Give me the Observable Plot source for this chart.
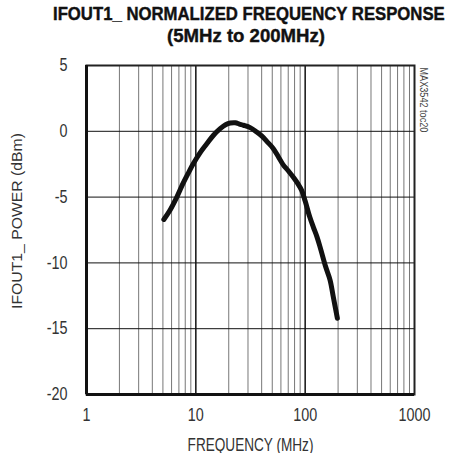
<!DOCTYPE html>
<html>
<head>
<meta charset="utf-8">
<script src="https://cdn.jsdelivr.net/npm/d3@7"></script>
<script src="https://cdn.jsdelivr.net/npm/@observablehq/plot@0.6"></script>
<style>
  body { margin: 0; background: #fff; }
  #wrap { width: 452px; height: 453px; position: relative; overflow: hidden; background: #fff; }
  .tl { position: absolute; white-space: nowrap; font-family: "Liberation Sans", Arial, sans-serif; font-weight: bold;
        font-size: 18px; line-height: 18px; color: #111; transform-origin: 0 0; -webkit-text-stroke: 0.4px #111; }
  #chart { position: absolute; left: 0; top: 50px; }
</style>
</head>
<body>
<div id="wrap">
  <div class="tl" id="t1" style="top:4.7px">IFOUT1_ NORMALIZED FREQUENCY RESPONSE</div>
  <div class="tl" id="t2" style="top:26.7px">(5MHz to 200MHz)</div>
  <div id="chart"></div>
</div>
<script>
const freqMHz = [5.1, 5.8, 6.7, 7.6, 8.5, 9.5, 11, 12.6, 14.5, 16.7, 18.7, 20.7, 23, 25, 27.3, 31.4, 36, 40, 45, 51, 57, 63, 70, 78, 86, 93, 100, 110, 119, 128, 137, 154, 169, 181, 197];
const powerDbm = [-6.7, -6.0, -5.0, -4.0, -3.2, -2.45, -1.6, -0.95, -0.3, 0.2, 0.5, 0.63, 0.65, 0.55, 0.46, 0.28, -0.05, -0.35, -0.8, -1.3, -1.95, -2.55, -3.0, -3.5, -4.0, -4.5, -5.3, -6.5, -7.3, -8.0, -8.8, -10.3, -11.3, -12.6, -14.2];
const xTicks = [1, 10, 100, 1000];
const yTicks = [-20, -15, -10, -5, 0, 5];
const minorX = [2,3,4,5,6,7,8,9,20,30,40,50,60,70,80,90,200,300,400,500,600,700,800,900];
const majorX = [10, 100];
const gridY = [-15, -10, -5, 0];

const data = freqMHz.map((f, i) => ({f, p: powerDbm[i]}));
const font = '"Liberation Sans", Arial, sans-serif';

const chart = Plot.plot({
  width: 452,
  height: 403,
  marginLeft: 86,
  marginRight: 38,
  marginTop: 15,
  marginBottom: 59,
  style: {fontFamily: font, fontSize: "18px", color: "#333", background: "#fff"},
  x: {type: "log", domain: [1, 1000], ticks: xTicks, tickFormat: d => String(d), tickSize: 0, tickPadding: 14,
      label: "FREQUENCY (MHz)", labelAnchor: "center", labelOffset: 56, labelArrow: "none"},
  y: {domain: [-20, 5], ticks: yTicks, tickFormat: d => String(d), tickSize: 0, tickPadding: 19,
      label: "IFOUT1_ POWER (dBm)", labelAnchor: "center", labelOffset: 74, labelArrow: "none"},
  marks: [
    Plot.ruleX(minorX, {stroke: "#777", strokeWidth: 1}),
    Plot.ruleX(majorX, {stroke: "#111", strokeWidth: 1.5}),
    Plot.ruleY(gridY, {stroke: "#111", strokeWidth: 1}),
    Plot.frame({stroke: "#222", strokeWidth: 2}),
    Plot.ruleX([1], {stroke: "#111", strokeWidth: 3}),
    Plot.ruleY([-20], {stroke: "#111", strokeWidth: 3}),
    Plot.line(data, {x: "f", y: "p", stroke: "#111", strokeWidth: 5, curve: "catmull-rom", strokeLinecap: "round"}),
    Plot.text(["MAX3542 toc20"], {frameAnchor: "top-right", dx: 13, dy: 2, rotate: 90, textAnchor: "start", fontSize: 10, fill: "#444"})
  ]
});
document.getElementById("chart").appendChild(chart);

// condense text horizontally to mimic the reference's narrow typeface
function addScale(el, s, pre) {
  let t = el.getAttribute("transform") || "";
  const x = el.getAttribute("x");
  if (x != null && /^-?[\d.]+$/.test(x) && +x !== 0) {
    t += ` translate(${+x},0)`;
    el.removeAttribute("x");
  }
  el.setAttribute("transform", `${t} ${pre || ""} scale(${s},1)`);
}
const texts = Array.from(chart.querySelectorAll("text"));
const t1000 = texts.find(t => t.textContent === "1000");
const tickScale = t1000 ? 32 / t1000.getComputedTextLength() : 0.8;
for (const t of texts) {
  const s = t.textContent;
  if (/^-?\d+$/.test(s)) addScale(t, tickScale);
  else if (s.startsWith("FREQUENCY")) addScale(t, 126 / t.getComputedTextLength());
  else if (s.startsWith("IFOUT1_")) {
    t.setAttribute("font-size", 14);
    addScale(t, 176 / t.getComputedTextLength(), "translate(9,0)");
  } else if (s.startsWith("MAX3542")) addScale(t, 65 / t.getComputedTextLength());
}
function fitTitle(id, target, cx) {
  const el = document.getElementById(id);
  const w = el.offsetWidth;
  el.style.left = (cx - target / 2) + "px";
  el.style.transform = `scaleX(${target / w})`;
}
fitTitle("t1", 392, 249);
fitTitle("t2", 158, 246);
</script>
</body>
</html>
